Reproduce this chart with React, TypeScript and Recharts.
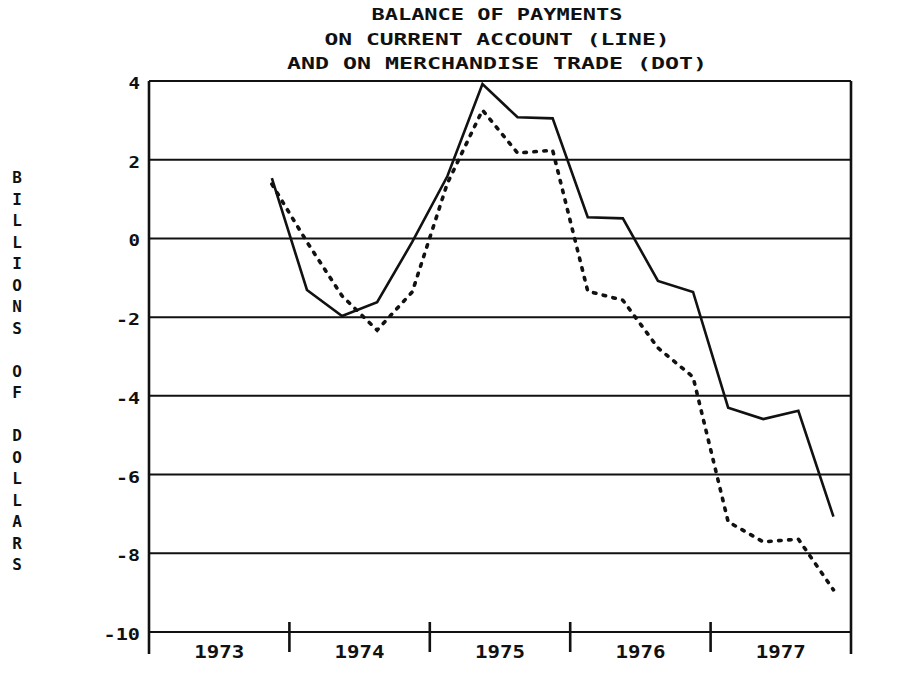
import React from 'react';
import {
  ComposedChart,
  Line,
  XAxis,
  YAxis,
  CartesianGrid,
  ReferenceLine,
  Customized,
} from 'recharts';

const titleLines = [
  'BALANCE OF PAYMENTS',
  'ON CURRENT ACCOUNT (LINE)',
  'AND ON MERCHANDISE TRADE (DOT)',
];
const yAxisTitle = 'BILLIONS OF DOLLARS';
const years = ['1973', '1974', '1975', '1976', '1977'];
const yTicks = [-10, -8, -6, -4, -2, 0, 2, 4];

const quarters = [
  '1973 Q4',
  '1974 Q1', '1974 Q2', '1974 Q3', '1974 Q4',
  '1975 Q1', '1975 Q2', '1975 Q3', '1975 Q4',
  '1976 Q1', '1976 Q2', '1976 Q3', '1976 Q4',
  '1977 Q1', '1977 Q2', '1977 Q3', '1977 Q4',
];
// Balance on current account (solid line), billions of dollars
const currentAccount = [
  1.53,
  -1.31, -1.97, -1.62, -0.09,
  1.58, 3.92, 3.08, 3.05,
  0.54, 0.51, -1.08, -1.36,
  -4.3, -4.59, -4.38, -7.07,
];
// Balance on merchandise trade (dotted line), billions of dollars
const merchandiseTrade = [
  1.38,
  -0.09, -1.46, -2.33, -1.36,
  1.4, 3.26, 2.17, 2.24,
  -1.34, -1.57, -2.78, -3.52,
  -7.2, -7.71, -7.64, -8.93,
];

const firstYear = Number(years[0]);
const data = quarters.map((q, i) => {
  const yr = Number(q.slice(0, 4));
  const qn = Number(q.slice(-1));
  return {
    t: (yr - firstYear) * 4 + qn - 0.5,
    current: currentAccount[i],
    trade: merchandiseTrade[i],
  };
});

const xTicks = Array.from({ length: years.length * 2 + 1 }, (_, i) => i * 2);

const FONT = '"DejaVu Sans Mono", monospace';
const INK = '#111';

const XTick = (props: any) => {
  const { x, y, payload } = props;
  const v = payload.value;
  if (v === 0 || v === years.length * 4) {
    return <line x1={x} y1={y} x2={x} y2={y + 22} stroke={INK} strokeWidth={2.6} />;
  }
  if (v % 4 === 0) {
    return <line x1={x} y1={y - 10} x2={x} y2={y + 20} stroke={INK} strokeWidth={2.6} />;
  }
  const label = years[(v - 2) / 4];
  return (
    <text
      x={x}
      y={y + 26}
      textAnchor="middle"
      fontFamily={FONT}
      fontWeight="bold"
      fontSize={17}
      fill={INK}
      textLength={50}
      lengthAdjust="spacingAndGlyphs"
    >
      {label}
    </text>
  );
};

const YTick = (props: any) => {
  const { x, y, payload, side } = props;
  const s = String(payload.value);
  return (
    <text
      x={x}
      y={y + 8}
      textAnchor={side === 'left' ? 'end' : 'start'}
      fontFamily={FONT}
      fontWeight="bold"
      fontSize={16}
      fill={INK}
      textLength={s.length * 12.5 - 1}
      lengthAdjust="spacingAndGlyphs"
    >
      {s}
    </text>
  );
};

const titleWidths = [251, 345, 420];

const Decorations = () => {
  const letters = yAxisTitle.split('');
  return (
    <g>
      {titleLines.map((t, i) => (
        <text
          key={t}
          x={497}
          y={20 + i * 24.5}
          textAnchor="middle"
          fontFamily={FONT}
          fontWeight="bold"
          fontSize={16}
          fill={INK}
          textLength={titleWidths[i]}
          lengthAdjust="spacingAndGlyphs"
        >
          {t}
        </text>
      ))}
      {letters.map((c, i) =>
        c === ' ' ? null : (
          <text
            key={i}
            x={17}
            y={177 + i * 21.5 + 6}
            textAnchor="middle"
            fontFamily={FONT}
            fontWeight="bold"
            fontSize={16}
            fill={INK}
          >
            {c}
          </text>
        )
      )}
    </g>
  );
};

export default function App() {
  return (
    <div style={{ position: 'absolute', left: 0, top: 0, background: '#fff' }}>
      <ComposedChart
        width={906}
        height={684}
        data={data}
        margin={{ top: 81, right: 0, bottom: 0, left: 0 }}
      >
        <CartesianGrid
          yAxisId="left"
          vertical={false}
          stroke={INK}
          strokeWidth={2}
          strokeOpacity={1}
        />
        <XAxis
          type="number"
          dataKey="t"
          domain={[0, years.length * 4]}
          ticks={xTicks}
          interval={0}
          tickLine={false}
          tickSize={0}
          tickMargin={0}
          axisLine={{ stroke: INK, strokeWidth: 2.2 }}
          tick={<XTick />}
          height={52}
          allowDecimals
        />
        <YAxis
          yAxisId="left"
          domain={[-10, 4]}
          ticks={yTicks}
          interval={0}
          tickLine={false}
          tickSize={0}
          tickMargin={9}
          axisLine={{ stroke: INK, strokeWidth: 2.6 }}
          tick={<YTick side="left" />}
          width={149}
        />
        <YAxis
          yAxisId="right"
          orientation="right"
          domain={[-10, 4]}
          ticks={yTicks}
          interval={0}
          tickLine={false}
          tickSize={0}
          tickMargin={10}
          axisLine={{ stroke: INK, strokeWidth: 2.6 }}
          tick={<YTick side="right" />}
          width={55}
        />
        <ReferenceLine yAxisId="left" y={4} stroke={INK} strokeWidth={2.2} />
        <Line
          yAxisId="left"
          type="linear"
          dataKey="trade"
          stroke={INK}
          strokeWidth={3.6}
          strokeDasharray="2.5 7.5"
          strokeLinecap="round"
          dot={false}
          isAnimationActive={false}
        />
        <Line
          yAxisId="left"
          type="linear"
          dataKey="current"
          stroke={INK}
          strokeWidth={2.6}
          dot={false}
          isAnimationActive={false}
        />
        <Customized component={Decorations} />
      </ComposedChart>
    </div>
  );
}
